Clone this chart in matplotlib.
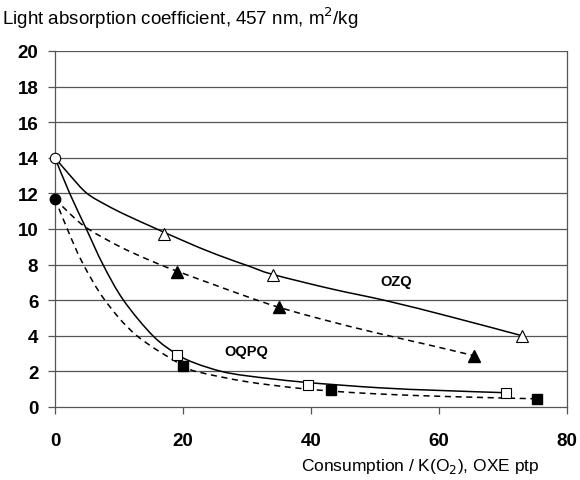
import matplotlib
matplotlib.use("Agg")
import matplotlib.pyplot as plt
import numpy as np
from matplotlib.path import Path
from matplotlib.patches import PathPatch

plt.rcParams['font.family'] = ['Liberation Sans', 'DejaVu Sans']

# ---- measured points (markers) ----
start_open = (0, 14.0)
start_filled = (0, 11.7)
ozq_open_x = [17, 34, 73]
ozq_open_y = [9.7, 7.4, 4.0]
ozq_fill_x = [19, 35, 65.5]
ozq_fill_y = [7.6, 5.6, 2.85]
oqpq_open_x = [19.1, 39.5, 70.5]
oqpq_open_y = [2.9, 1.25, 0.8]
oqpq_fill_x = [20, 43.2, 75.3]
oqpq_fill_y = [2.32, 0.96, 0.46]

# ---- trend curves ----
ozq_solid_x = [0, 2.5, 5, 8, 11, 15.6, 20.3, 25, 30.4, 34, 43, 52, 62, 73]
ozq_solid_y = [14, 12.95, 12.0, 11.35, 10.8, 10.05, 9.3, 8.6, 7.9, 7.45, 6.65, 5.95, 5.05, 4.0]
ozq_dash_x = [0, 2.5, 5.2, 10.4, 15.6, 19.3, 25, 30.4, 35, 42, 50, 58, 65.5]
ozq_dash_y = [11.7, 10.8, 10.0, 8.96, 8.12, 7.6, 6.85, 6.15, 5.6, 4.9, 4.18, 3.52, 2.88]
oqpq_solid_x = [0, 2.3, 4.9, 7.5, 10.7, 15.3, 19.1, 22, 26, 30, 38.7, 50.6, 60, 70.5]
oqpq_solid_y = [14, 12.0, 10.0, 8.0, 6.0, 4.0, 2.95, 2.45, 2.0, 1.75, 1.4, 1.08, 0.93, 0.8]
oqpq_dash_x = [0, 2.1, 4.3, 7.8, 12.8, 20, 22.6, 29.8, 37.6, 43, 50.6, 62, 75.3]
oqpq_dash_y = [11.7, 9.85, 8.1, 6.0, 4.0, 2.32, 1.95, 1.43, 1.07, 0.9, 0.73, 0.58, 0.46]

xticks = [0, 20, 40, 60, 80]
yticks = list(range(0, 21, 2))


def smooth_path(xs, ys):
    p = np.column_stack([xs, ys]).astype(float)
    n = len(p)
    verts = [p[0]]
    codes = [Path.MOVETO]
    for i in range(n - 1):
        p0 = p[i - 1] if i > 0 else p[i]
        p1 = p[i]
        p2 = p[i + 1]
        p3 = p[i + 2] if i + 2 < n else p[i + 1]
        c1 = p1 + (p2 - p0) / 6.0
        c2 = p2 - (p3 - p1) / 6.0
        verts += [c1, c2, p2]
        codes += [Path.CURVE4] * 3
    return Path(verts, codes)


fig = plt.figure(figsize=(5.8, 4.81), dpi=100)
ax = fig.add_axes([0.0948, 0.1518, 0.8828, 0.7401])
ax.set_xlim(0, 80)
ax.set_ylim(0, 20)

gcol = '#555555'
for y in yticks[1:]:
    ax.axhline(y, color=gcol, lw=0.9, zorder=1)

for xs, ys, ls in [(ozq_solid_x, ozq_solid_y, '-'),
                   (ozq_dash_x, ozq_dash_y, (0, (4, 3))),
                   (oqpq_solid_x, oqpq_solid_y, '-'),
                   (oqpq_dash_x, oqpq_dash_y, (0, (4, 3)))]:
    patch = PathPatch(smooth_path(xs, ys), fill=False, edgecolor='black',
                      lw=1.1, linestyle=ls, zorder=3)
    ax.add_patch(patch)

ms = 7.5
ax.plot(*start_open, 'o', ms=ms, mfc='white', mec='black', mew=0.8, zorder=5, clip_on=False)
ax.plot(*start_filled, 'o', ms=ms, mfc='black', mec='black', zorder=5, clip_on=False)
ax.plot(ozq_open_x, ozq_open_y, '^', ms=ms + 1, mfc='white', mec='black', mew=0.8, ls='none', zorder=5)
ax.plot(ozq_fill_x, ozq_fill_y, '^', ms=ms + 1, mfc='black', mec='black', ls='none', zorder=5)
ax.plot(oqpq_open_x, oqpq_open_y, 's', ms=ms, mfc='white', mec='black', mew=0.8, ls='none', zorder=5)
ax.plot(oqpq_fill_x, oqpq_fill_y, 's', ms=ms, mfc='black', mec='black', ls='none', zorder=5)

ax.text(53.3, 7.09, 'OZQ', fontsize=10.5, fontweight='bold', ha='center', va='center', zorder=6)
ax.text(29.95, 3.17, 'OQPQ', fontsize=10.5, fontweight='bold', ha='center', va='center', zorder=6)

ax.set_xticks(xticks)
ax.set_yticks(yticks)
ax.set_xticklabels([str(v) for v in xticks], fontsize=13.5, fontweight='bold')
ax.set_yticklabels([str(v) for v in yticks], fontsize=13.5, fontweight='bold')
ax.tick_params(axis='both', direction='out', length=5, width=0.9, color=gcol)
ax.tick_params(axis='y', pad=7)
ax.tick_params(axis='x', pad=13)

for s in ['left', 'bottom', 'right']:
    ax.spines[s].set_color(gcol)
    ax.spines[s].set_linewidth(0.9)
ax.spines['top'].set_visible(False)

fig.text(0.004, 0.963, 'Light absorption coefficient, 457 nm, m$^2$/kg', fontsize=13.5,
         ha='left', va='center')
fig.text(0.931, 0.031, 'Consumption / K(O$_2$), OXE ptp', fontsize=12.5,
         ha='right', va='center')

fig.savefig('out.png', dpi=100)
